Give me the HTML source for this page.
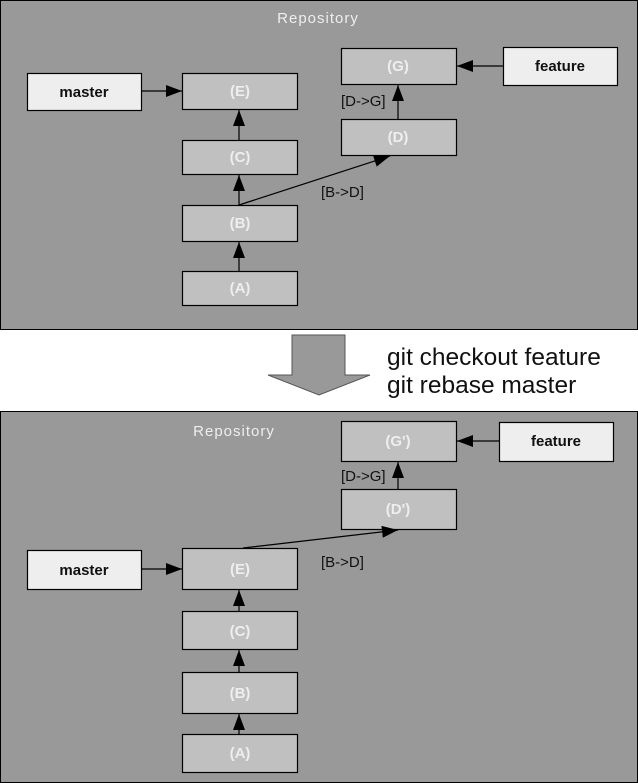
<!DOCTYPE html>
<html><head><style>body{margin:0;background:#fff}svg{display:block}</style></head><body>
<svg width="638" height="783" xmlns="http://www.w3.org/2000/svg" font-family="Liberation Sans, sans-serif">
<defs>
<marker id="ar" markerWidth="16" markerHeight="12" refX="16" refY="6" orient="auto" markerUnits="userSpaceOnUse"><path d="M0,0 L16,6 L0,12 z" fill="#000"/></marker>
</defs>
<rect x="0.5" y="0.5" width="637" height="329" fill="#999" stroke="#000"/>
<rect x="0.5" y="411.5" width="637" height="371" fill="#999" stroke="#000"/>
<text x="318" y="23" font-size="15" fill="#eee" text-anchor="middle" letter-spacing="1">Repository</text>
<text x="234" y="436" font-size="15" fill="#eee" text-anchor="middle" letter-spacing="1">Repository</text>
<g stroke="#000" stroke-width="1.2">
<rect x="27.5" y="73.5" width="114" height="37" fill="#eee"/>
<rect x="503.5" y="47.5" width="114" height="38" fill="#eee"/>
<rect x="27.5" y="550.5" width="114" height="39" fill="#eee"/>
<rect x="499.5" y="422.5" width="114" height="39" fill="#eee"/>
<g fill="#c0c0c0">
<rect x="182.5" y="73.5" width="115" height="36"/>
<rect x="182.5" y="140.5" width="115" height="34"/>
<rect x="182.5" y="205.5" width="115" height="36"/>
<rect x="182.5" y="271.5" width="115" height="34"/>
<rect x="341.5" y="48.5" width="115" height="36"/>
<rect x="341.5" y="119.5" width="115" height="36"/>
<rect x="182.5" y="548.5" width="115" height="41"/>
<rect x="182.5" y="611.5" width="115" height="38"/>
<rect x="182.5" y="672.5" width="115" height="41"/>
<rect x="182.5" y="734.5" width="115" height="38"/>
<rect x="341.5" y="421.5" width="115" height="40"/>
<rect x="341.5" y="489.5" width="115" height="40"/>
</g>
<g fill="none" marker-end="url(#ar)">
<line x1="141" y1="91" x2="182" y2="91"/>
<line x1="239" y1="140" x2="239" y2="110"/>
<line x1="239" y1="205" x2="239" y2="175"/>
<line x1="239" y1="271" x2="239" y2="242"/>
<line x1="239" y1="205" x2="390" y2="156"/>
<line x1="398" y1="119" x2="398" y2="85"/>
<line x1="503" y1="66" x2="457" y2="66"/>
<line x1="141" y1="569" x2="182" y2="569"/>
<line x1="239" y1="611" x2="239" y2="590"/>
<line x1="239" y1="672" x2="239" y2="650"/>
<line x1="239" y1="734" x2="239" y2="714"/>
<line x1="243" y1="548" x2="398" y2="530"/>
<line x1="398" y1="489" x2="398" y2="462"/>
<line x1="499" y1="441" x2="457" y2="441"/>
</g>
</g>
<g font-size="15" font-weight="bold" text-anchor="middle">
<text x="84" y="97" fill="#111">master</text>
<text x="560" y="71" fill="#111">feature</text>
<text x="84" y="575" fill="#111">master</text>
<text x="556" y="446" fill="#111">feature</text>
<g fill="#eee">
<text x="240" y="96">(E)</text><text x="240" y="162">(C)</text><text x="240" y="228">(B)</text><text x="240" y="293">(A)</text>
<text x="398" y="71">(G)</text><text x="398" y="142">(D)</text>
<text x="240" y="574">(E)</text><text x="240" y="636">(C)</text><text x="240" y="698">(B)</text><text x="240" y="758">(A)</text>
<text x="398" y="446">(G')</text><text x="398" y="514">(D')</text>
</g></g>
<g font-size="15" fill="#111">
<text x="341" y="106">[D-&gt;G]</text>
<text x="321" y="197">[B-&gt;D]</text>
<text x="341" y="481">[D-&gt;G]</text>
<text x="321" y="567">[B-&gt;D]</text>
</g>
<path d="M292,335 L345,335 L345,375 L370,375 L319,395 L268,375 L292,375 Z" fill="#999" stroke="#555"/>
<text x="387" y="365" font-size="24.5" fill="#111">git checkout feature</text>
<text x="387" y="393" font-size="24.5" fill="#111">git rebase master</text>
</svg>
</body></html>
